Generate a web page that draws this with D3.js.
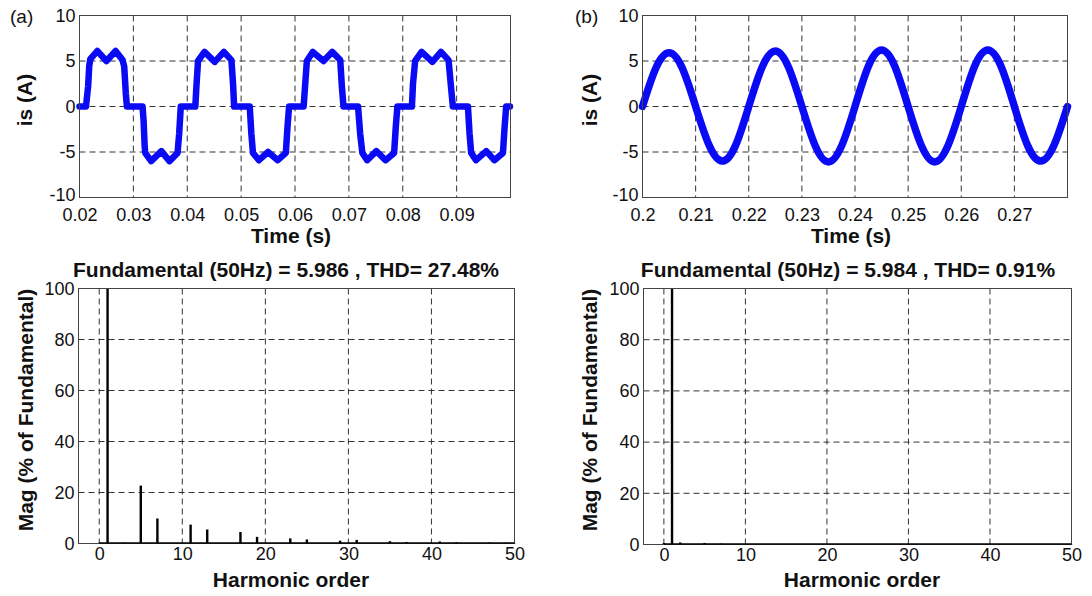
<!DOCTYPE html>
<html><head><meta charset="utf-8">
<script src="https://cdn.jsdelivr.net/npm/d3@7"></script>
<style>
body{margin:0;background:#fff}
svg{display:block}
text{font-family:"Liberation Sans",Arial,Helvetica,sans-serif;fill:#111}
</style>
</head><body>
<svg id="c" width="1092" height="596"></svg>
<script>
// ---------- DATA ----------
// (a) source current before compensation: time (s) and current (A)
const timeA = [0.0200,0.0212,0.0216,0.0218,0.0220,0.0233,0.0250,0.0267,0.0280,0.0283,0.0286,0.0288,
  0.0317,0.0319,0.0321,0.0322,0.0333,0.0352,0.0367,0.0382,0.0385,0.0388,
  0.0415,0.0417,0.0420,0.0432,0.0451,0.0468,0.0482,0.0485,0.0487,
  0.0516,0.0519,0.0522,0.0533,0.0550,0.0568,0.0583,0.0586,0.0589,
  0.0616,0.0619,0.0622,0.0633,0.0653,0.0669,0.0684,0.0687,0.0690,
  0.0717,0.0721,0.0725,0.0734,0.0751,0.0768,0.0784,0.0787,0.0790,
  0.0817,0.0819,0.0823,0.0835,0.0855,0.0871,0.0885,0.0889,0.0893,
  0.0921,0.0924,0.0927,0.0936,0.0955,0.0970,0.0986,0.0989,0.0992,0.0999];
const currentA = [0,0,2.2,4.4,5.2,6.1,5.0,6.1,5.1,4.4,1.4,0,
  0,-1.6,-4.4,-5.1,-6.0,-4.9,-6.0,-5.1,-3.0,0,
  0,2.2,5.0,6.0,4.9,6.0,5.1,2.5,0,
  0,-3.0,-5.1,-5.9,-5.0,-5.9,-5.1,-2.3,0,
  0,2.5,5.0,6.0,5.0,6.0,5.1,2.2,0,
  0,-3.0,-5.1,-5.9,-4.9,-5.9,-5.1,-2.3,0,
  0,2.5,5.0,6.0,4.9,6.0,5.1,2.5,0,
  0,-3.0,-5.1,-5.9,-4.9,-5.9,-5.1,-2.3,0,0];

// (b) source current after compensation
const timeB = [0.2000,0.2025,0.2050,0.2075,0.2100,0.2125,0.2150,0.2175,0.2200,0.2225,0.2250,0.2275,
  0.2300,0.2325,0.2350,0.2375,0.2400,0.2425,0.2450,0.2475,0.2500,0.2525,0.2550,0.2575,
  0.2600,0.2625,0.2650,0.2675,0.2700,0.2725,0.2750,0.2775,0.2800];
const currentB = [0,4.2,5.9,4.2,0,-4.2,-6.0,-4.3,0,4.3,6.1,4.3,
  0,-4.3,-6.1,-4.3,0,4.4,6.2,4.4,0,-4.3,-6.1,-4.3,
  0,4.4,6.2,4.4,0,-4.3,-6.0,-4.2,0];

// harmonic spectra (% of fundamental)
const harmonicOrder = [0,1,2,3,4,5,6,7,8,9,10,11,12,13,14,15,16,17,18,19,20,21,22,23,24,25,
  26,27,28,29,30,31,32,33,34,35,36,37,38,39,40,41,42,43,44,45,46,47,48,49,50];
const magA = [0.3,100,0.2,0.3,0.2,22.7,0.2,9.8,0.2,0.2,0.2,7.4,0.2,5.5,0.2,0.2,0.2,4.5,0.2,2.6,0.2,0.2,0.2,2.0,0.2,1.6,
  0.2,0.2,0.2,1.1,0.2,1.4,0.2,0.2,0.2,0.9,0.2,0.6,0.2,0.2,0.2,0.8,0.2,0.5,0.1,0.1,0.1,0.4,0.1,0.3,0.1];
const magB = [0.6,100,0.8,0.2,0.1,0.6,0.1,0.3,0.1,0.1,0.1,0.1,0.1,0.1,0.1,0.1,0.1,0.1,0.1,0.1,0.1,0.1,0.1,0.1,0.1,0.1,
  0.1,0.1,0.1,0.1,0.1,0.1,0.1,0.1,0.1,0.1,0.1,0.1,0.1,0.1,0.1,0.1,0.1,0.1,0.1,0.1,0.1,0.1,0.1,0.1,0.1];

const timeTicksA = [0.02,0.03,0.04,0.05,0.06,0.07,0.08,0.09];
const timeTicksB = [0.2,0.21,0.22,0.23,0.24,0.25,0.26,0.27];
const currentTicks = [-10,-5,0,5,10];
const harmTicks = [0,10,20,30,40,50];
const magTicks = [0,20,40,60,80,100];
const titles = ["Fundamental (50Hz) = 5.986 , THD= 27.48%", "Fundamental (50Hz) = 5.984 , THD= 0.91%"];

// ---------- DRAW ----------
const svg = d3.select("#c");
const fmt = d => String(+d.toFixed(2));

function frame(box, xs, ys, xt, yt, xPad, yPad, lowDy) {
  const g = svg.append("g");
  g.selectAll("line.gx").data(xt.filter(v => xs(v) > box.l + 1 && xs(v) < box.r - 1)).join("line")
    .attr("x1", d => xs(d)).attr("x2", d => xs(d)).attr("y1", box.t).attr("y2", box.b)
    .attr("stroke", "#333").attr("stroke-width", 1).attr("stroke-dasharray", "6,4");
  g.selectAll("line.gy").data(yt.filter(v => ys(v) > box.t + 1 && ys(v) < box.b - 1)).join("line")
    .attr("x1", box.l).attr("x2", box.r).attr("y1", d => ys(d)).attr("y2", d => ys(d))
    .attr("stroke", "#333").attr("stroke-width", 1).attr("stroke-dasharray", "6,4");
  const ax = svg.append("g").attr("transform", `translate(0,${box.b})`)
    .call(d3.axisBottom(xs).tickValues(xt).tickSize(0).tickPadding(xPad).tickFormat(fmt));
  ax.select(".domain").remove();
  ax.selectAll("text").attr("font-size", 18).style("font-family", '"Liberation Sans",Arial,sans-serif').attr("fill", "#111");
  const ay = svg.append("g").attr("transform", `translate(${box.l},0)`)
    .call(d3.axisLeft(ys).tickValues(yt).tickSize(0).tickPadding(yPad).tickFormat(fmt));
  ay.select(".domain").remove();
  ay.selectAll("text").attr("font-size", 18).style("font-family", '"Liberation Sans",Arial,sans-serif').attr("fill", "#111");
  if (lowDy) ay.selectAll("text").filter(d => d === yt[0]).attr("dy", lowDy);
  return g;
}
function border(box) {
  svg.append("rect").attr("x", box.l).attr("y", box.t).attr("width", box.r - box.l).attr("height", box.b - box.t)
    .attr("fill", "none").attr("stroke", "#444").attr("stroke-width", 1);
}
function label(txt, x, y, rot, size, weight, anchor) {
  const t = svg.append("text").text(txt).attr("font-size", size).attr("font-weight", weight || "bold")
    .attr("text-anchor", anchor || "middle");
  if (rot) t.attr("transform", `translate(${x},${y}) rotate(-90)`);
  else t.attr("x", x).attr("y", y);
}

// time-domain panels
const timePanels = [
  {box:{l:79.5,r:510.5,t:15.5,b:197.5}, t:timeA, v:currentA, dom:[0.02,0.1], ticks:timeTicksA, sw:6.5, curve:d3.curveLinear, lx:291, ly:243, yl:32},
  {box:{l:642.5,r:1067.5,t:15.5,b:197.5}, t:timeB, v:currentB, dom:[0.2,0.28], ticks:timeTicksB, sw:7.5, curve:d3.curveNatural, lx:851, ly:243, yl:597}
];
timePanels.forEach(p => {
  const xs = d3.scaleLinear().domain(p.dom).range([p.box.l, p.box.r]);
  const ys = d3.scaleLinear().domain([-10, 10]).range([p.box.b, p.box.t]);
  frame(p.box, xs, ys, p.ticks, currentTicks, 10.5, 4, "0.18em");
  const pts = p.t.map((d, i) => [d, p.v[i]]);
  svg.append("path").datum(pts)
    .attr("d", d3.line().x(d => xs(d[0])).y(d => ys(d[1])).curve(p.curve))
    .attr("fill", "none").attr("stroke", "#0a0af5").attr("stroke-width", p.sw)
    .attr("stroke-linejoin", "round").attr("stroke-linecap", "round");
  border(p.box);
  label("Time (s)", p.lx, p.ly, false, 21);
  label("is (A)", p.yl, 100, true, 21);
});

// harmonic panels
const harmPanels = [
  {box:{l:78.5,r:514.5,t:288.5,b:543.5}, v:magA, title:titles[0], tx:286, lx:291, yl:33},
  {box:{l:643.5,r:1071.5,t:288.5,b:544.5}, v:magB, title:titles[1], tx:848, lx:862, yl:597}
];
harmPanels.forEach(p => {
  const xs = d3.scaleLinear().domain([-2.5, 50]).range([p.box.l, p.box.r]);
  const ys = d3.scaleLinear().domain([0, 100]).range([p.box.b, p.box.t]);
  frame(p.box, xs, ys, harmTicks, magTicks, 4, 4, null);
  svg.append("g").selectAll("rect").data(harmonicOrder).join("rect")
    .attr("x", d => xs(d) - 1.2).attr("width", 2.4)
    .attr("y", (d, i) => ys(p.v[i])).attr("height", (d, i) => ys(0) - ys(p.v[i]))
    .attr("fill", "#000");
  border(p.box);
  svg.append("line").attr("x1", xs(0)).attr("x2", xs(50)).attr("y1", p.box.b - 0.5).attr("y2", p.box.b - 0.5)
    .attr("stroke", "#000").attr("stroke-width", 1.5);
  label(p.title, p.tx, 277, false, 21);
  label("Harmonic order", p.lx, 587, false, 21);
  label("Mag (% of Fundamental)", p.yl, 410, true, 21);
});

label("(a)", 10, 23, false, 19, "normal", "start");
label("(b)", 575, 23, false, 19, "normal", "start");
</script>
</body></html>
